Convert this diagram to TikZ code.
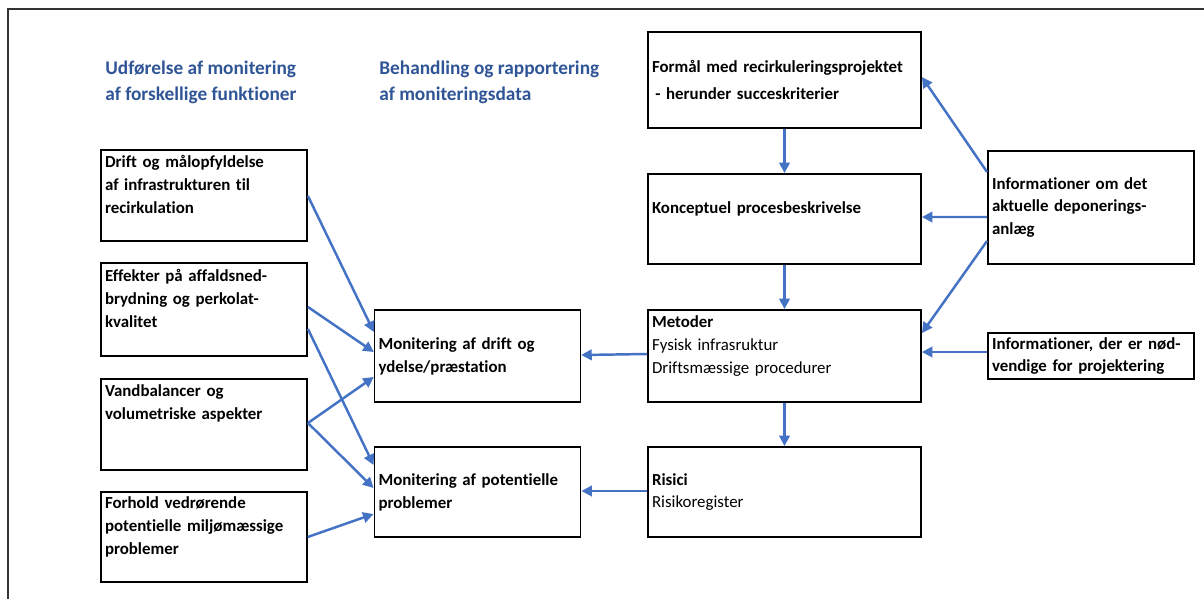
\documentclass[tikz,border=0pt]{standalone}
\usepackage{fontspec}
\setmainfont{Carlito}[Ligatures=NoCommon]
\usetikzlibrary{arrows.meta,calc}
\definecolor{headblue}{HTML}{2F5597}
\definecolor{arrowblue}{HTML}{4472C4}

\begin{document}
\begin{tikzpicture}[x=0.02cm,y=-0.02cm,
  box/.style={draw, line width=1.1pt, inner xsep=0.08cm, inner ysep=0pt, align=left,
    font=\bfseries\fontsize{9.6}{13}\selectfont},
  narrowbox/.style={box, text width=3.96cm, minimum height=#1},
  widebox/.style={box, text width=5.3cm, minimum height=#1},
  head/.style={text=headblue, align=left, inner sep=0pt, anchor=north west,
    font=\bfseries\fontsize{11}{14.7}\selectfont},
  flow/.style={draw=arrowblue, line width=1.4pt, -{Triangle[length=6pt,width=6pt]}}]
  \useasboundingbox (0,0) rectangle (1204,599);
  \draw[line width=0.9pt, black!80] (8,599) -- (8,9) -- (1204,9);

  \node[head] (headleft) at (105,61) {Udførelse af monitering\\af forskellige funktioner};
  \node[head] (headmid) at (379,61) {Behandling og rapportering\\af moniteringsdata};

  \node[narrowbox=1.82cm] (drift) at (204,195.5) {Drift og målopfyldelse\\af infrastrukturen til\\recirkulation\\~};
  \node[narrowbox=1.86cm] (effekter) at (204,309.5) {Effekter på affaldsned-\\brydning og perkolat-\\kvalitet\\~};
  \node[narrowbox=1.82cm] (vand) at (204,424.5) {Vandbalancer og\\volumetriske aspekter\\~\\~};
  \node[narrowbox=1.80cm, line width=0.8pt] (forhold) at (204,537) {Forhold vedrørende\\potentielle miljømæssige\\problemer\\~};

  \node[narrowbox=1.84cm, line width=0.8pt] (mondrift) at (477.5,356) {Monitering af drift og\\ydelse/præstation};
  \node[narrowbox=1.80cm] (monprob) at (477.5,492) {Monitering af potentielle\\problemer};

  \node[widebox=1.92cm] (formaal) at (784.5,80) {Formål med recirkuleringsprojektet\\[2.5pt]\hspace{0.2em}- herunder succeskriterier};
  \node[widebox=1.80cm] (koncept) at (784.5,219) {Konceptuel procesbeskrivelse\\~};
  \node[widebox=1.84cm] (metoder) at (784.5,356) {Metoder\\\mdseries Fysisk infrasruktur\\\mdseries Driftsmæssige procedurer\\~};
  \node[widebox=1.80cm] (risici) at (784.5,492) {Risici\\\mdseries Risikoregister};

  \node[narrowbox=2.26cm] (infodep) at (1091,207.5) {Informationer om det\\aktuelle deponerings-\\anlæg};
  \node[narrowbox=0.92cm] (infonod) at (1091,356) {Informationer, der er nød-\\vendige for projektering};

  \draw[flow] (formaal.south) -- (koncept.north);
  \draw[flow] (koncept.south) -- (metoder.north);
  \draw[flow] (metoder.south) -- (risici.north);
  \draw[flow] ($(infodep.west)+(0,-35.5)$) -- ($(formaal.east)+(0,-3)$);
  \draw[flow] ($(infodep.west)+(0,9.5)$) -- ($(koncept.east)+(0,-2)$);
  \draw[flow] ($(infodep.west)+(0,33.5)$) -- ($(metoder.east)+(0,-23)$);
  \draw[flow] ($(infonod.west)+(0,-4)$) -- ($(metoder.east)+(0,-4)$);
  \draw[flow] ($(metoder.west)+(0,-2)$) -- ($(mondrift.east)+(0,-1)$);
  \draw[flow] ($(risici.west)+(0,-1)$) -- ($(monprob.east)+(0,-1)$);
  \draw[flow] ($(drift.east)+(0,0.5)$) -- ($(mondrift.west)+(0,-24)$);
  \draw[flow] ($(effekter.east)+(0,-2.5)$) -- ($(mondrift.west)+(0,-4)$);
  \draw[flow] ($(effekter.east)+(0,19.5)$) -- ($(monprob.west)+(0,-27)$);
  \draw[flow] ($(vand.east)+(0,-1.5)$) -- ($(mondrift.west)+(0,21)$);
  \draw[flow] ($(vand.east)+(0,-1.5)$) -- ($(monprob.west)+(0,-4)$);
  \draw[flow] (forhold.east) -- ($(monprob.west)+(0,22)$);
\end{tikzpicture}
\end{document}
